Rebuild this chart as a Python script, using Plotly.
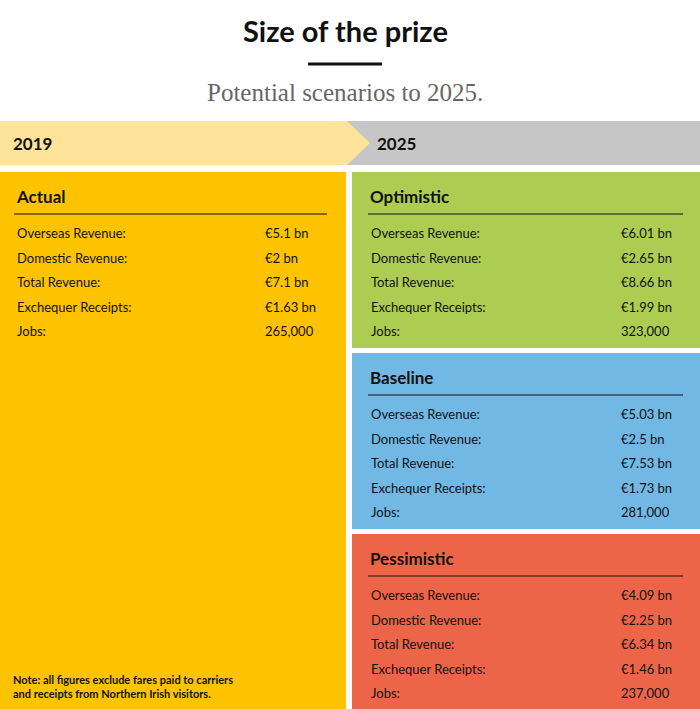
import plotly.graph_objects as go

title = "Size of the prize"
subtitle = "Potential scenarios to 2025."
years = ["2019", "2025"]
row_labels = ["Overseas Revenue:", "Domestic Revenue:", "Total Revenue:", "Exchequer Receipts:", "Jobs:"]
scenarios = ["Actual", "Optimistic", "Baseline", "Pessimistic"]
actual_vals = ["€5.1 bn", "€2 bn", "€7.1 bn", "€1.63 bn", "265,000"]
optimistic_vals = ["€6.01 bn", "€2.65 bn", "€8.66 bn", "€1.99 bn", "323,000"]
baseline_vals = ["€5.03 bn", "€2.5 bn", "€7.53 bn", "€1.73 bn", "281,000"]
pessimistic_vals = ["€4.09 bn", "€2.25 bn", "€6.34 bn", "€1.46 bn", "237,000"]
note = "Note: all figures exclude fares paid to carriers<br>and receipts from Northern Irish visitors."

W, H = 700, 709
FONT = "Lato"
fig = go.Figure()
shapes, ann = [], []

def rect(x0, y0, x1, y1, c):
    shapes.append(dict(type="rect", x0=x0, x1=x1, y0=y0, y1=y1, fillcolor=c, line=dict(width=0), layer="below"))

def line(x0, y0, x1, y1, w=1, c="#111"):
    shapes.append(dict(type="line", x0=x0, x1=x1, y0=y0, y1=y1, line=dict(color=c, width=w)))

def text(x, y, s, size=13, bold=False, anchor="left", color="#111", family=FONT):
    ann.append(dict(x=x, y=y, text=f"<b>{s}</b>" if bold else s, showarrow=False, xanchor=anchor,
                    yanchor="middle", font=dict(size=size, color=color, family=family), align="left"))

text(345, 30, title, 29, True, "center")
line(308, 64, 382, 64, 3)
text(345, 92, subtitle, 25, False, "center", "#666", "Liberation Serif")

# banner
rect(0, 121, 700, 165, "#C6C6C6")
shapes.append(dict(type="path", path="M 0 121 L 347 121 L 370 143 L 347 165 L 0 165 Z",
                   fillcolor="#FDE49A", line=dict(width=0), layer="below"))
text(11, 143, years[0], 17, True)
text(375, 143, years[1], 17, True)

panels = [
    (0, 346, 172, 709, "#FDC300", scenarios[0], actual_vals, 263),
    (352, 700, 172, 348, "#ACCD52", scenarios[1], optimistic_vals, 619),
    (352, 700, 353, 529, "#72B8E4", scenarios[2], baseline_vals, 619),
    (352, 700, 534, 709, "#EC6549", scenarios[3], pessimistic_vals, 619),
]
for x0, x1, y0, y1, c, name, vals, vx in panels:
    rect(x0, y0, x1, y1, c)
    lx = x0 + 15 if x0 == 0 else x0 + 17
    text(lx - 1, y0 + 24, name, 17, True)
    line(lx - 1, y0 + 42, 327 if x0 == 0 else 683, y0 + 42, 1)
    for i, (lab, v) in enumerate(zip(row_labels, vals)):
        y = y0 + 61 + i * 24.5
        text(lx, y, lab, 13)
        text(vx, y, v, 13)

ann.append(dict(x=11, y=686, text=f"<b>{note}</b>", showarrow=False, xanchor="left", yanchor="middle",
                align="left", font=dict(size=11, color="#111", family=FONT)))

fig.add_trace(go.Scatter(x=[0, W], y=[0, H], mode="markers", marker=dict(opacity=0), hoverinfo="skip", showlegend=False))
fig.update_layout(width=W, height=H, autosize=False, margin=dict(l=0, r=0, t=0, b=0),
                  paper_bgcolor="white", plot_bgcolor="white",
                  shapes=shapes, annotations=ann,
                  xaxis=dict(range=[0, W], visible=False, fixedrange=True),
                  yaxis=dict(range=[H, 0], visible=False, fixedrange=True))
fig.write_html("out.html", config={"displayModeBar": False, "responsive": False})
with open("out.html", encoding="utf-8") as f:
    html = f.read()
html = html.replace("<head>", "<head><style>html,body{margin:0;padding:0;overflow:hidden}</style>", 1)
with open("out.html", "w", encoding="utf-8") as f:
    f.write(html)
